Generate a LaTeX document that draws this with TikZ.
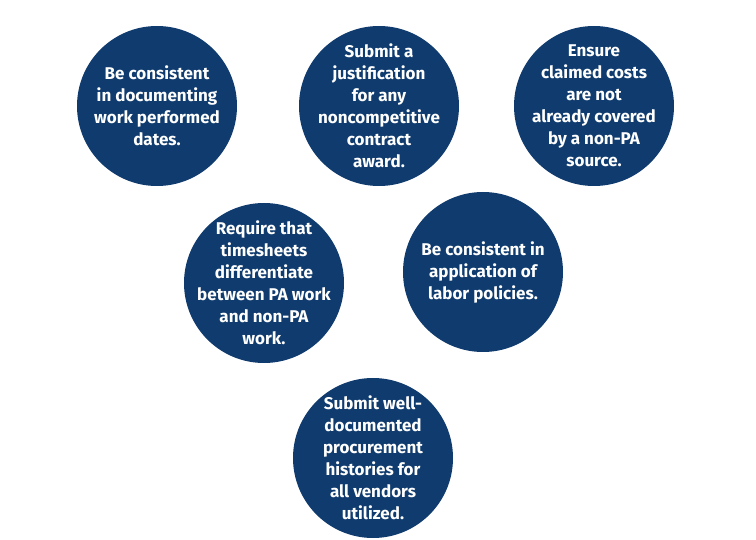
\documentclass[tikz,border=0pt]{standalone}
\usepackage{fontspec}
\setmainfont{Fira Sans}
\definecolor{navy}{HTML}{0F3B6E}
\tikzset{tip/.style={circle, fill=navy, minimum size=160pt, inner sep=0pt,
    label={[align=center, text=white, font=\bfseries\fontsize{17}{22}\selectfont]center:#1}}}
\begin{document}
\begin{tikzpicture}[x=1pt, y=-1pt]
\useasboundingbox (0,0) rectangle (756,540);
\node[tip={Be consistent\\in documenting\\work performed\\dates.}] (consistent_dates) at (157,106) {};
\node[tip={Submit a\\justification\\for any\\noncompetitive\\contract\\award.}] (justification) at (379,106) {};
\node[tip={Ensure\\claimed costs\\are not\\already covered\\by a non-PA\\source.}] (costs) at (594,106) {};
\node[tip={Require that\\timesheets\\differentiate\\between PA work\\and non-PA\\work.}] (timesheets) at (264,283) {};
\node[tip={Be consistent in\\application of\\labor policies.}] (labor) at (483,272) {};
\node[tip={Submit well-\\documented\\procurement\\histories for\\all vendors\\utilized.}] (procurement) at (373,458) {};
\end{tikzpicture}
\end{document}
